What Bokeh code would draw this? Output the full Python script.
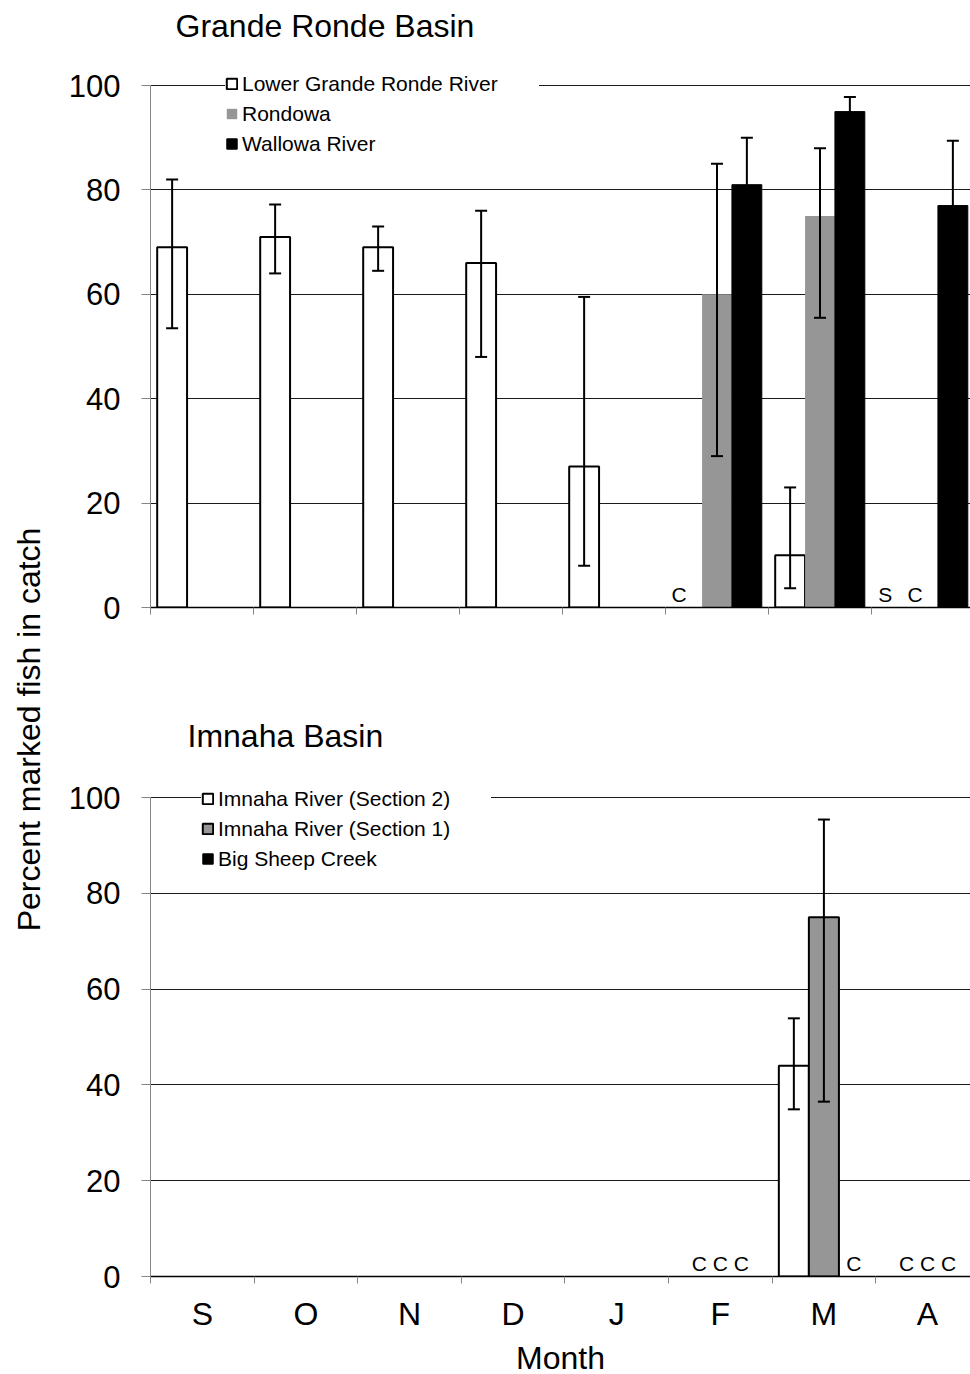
import math
from bokeh.plotting import figure
from bokeh.models import (ColumnDataSource, Whisker, TeeHead, FixedTicker,
                          Legend, LegendItem, Range1d)
from bokeh.layouts import row, column
from bokeh.core.properties import value
from bokeh.embed import file_html
from bokeh.resources import INLINE

FONT = "Liberation Sans"

# ---------------- data ----------------
months = ["S", "O", "N", "D", "J", "F", "M", "A"]

# Grande Ronde Basin
gr_names = ["Lower Grande Ronde River", "Rondowa", "Wallowa River"]
lgr_val = [69, 71, 69, 66, 27, None, 10, None]
lgr_hi = [82, 77.2, 73, 76, 59.5, None, 23, None]
lgr_lo = [53.5, 64, 64.5, 48, 8, None, 3.7, None]
ron_val = [None, None, None, None, None, 60, 75, None]
ron_hi = [None, None, None, None, None, 85, 88, None]
ron_lo = [None, None, None, None, None, 29, 55.5, None]
wal_val = [None, None, None, None, None, 81, 95, 77]
wal_hi = [None, None, None, None, None, 90, 97.8, 89.4]
wal_lo = [None, None, None, None, None, 72, 92.2, 64.6]
gr_notes_month = ["F", "A", "A"]
gr_notes_slot = [0, 0, 1]
gr_notes_text = ["C", "S", "C"]

# Imnaha Basin
im_names = ["Imnaha River (Section 2)", "Imnaha River (Section 1)", "Big Sheep Creek"]
im2_val = [None, None, None, None, None, None, 44, None]
im2_hi = [None, None, None, None, None, None, 53.9, None]
im2_lo = [None, None, None, None, None, None, 34.9, None]
im1_val = [None, None, None, None, None, None, 75, None]
im1_hi = [None, None, None, None, None, None, 95.4, None]
im1_lo = [None, None, None, None, None, None, 36.5, None]
bsc_val = [None, None, None, None, None, None, None, None]
bsc_hi = [None] * 8
bsc_lo = [None] * 8
im_notes_month = ["F", "M", "A"]
im_notes_slot = [1, 2, 1]
im_notes_text = ["C C C", "C", "C C C"]

y_ticks = [0, 20, 40, 60, 80, 100]

# ---------------- styling ----------------
GREY = "#969696"
SLOT = [-0.29, 0.0, 0.29]
BAR_W = 0.29
NAN = float("nan")


def make_panel(series, styles, notes, title, frame_w, frame_h, left_border,
               bottom_border, ppm, ppu, show_months, legend_loc, label_w,
               title_px, note_dx):
    x_end = frame_w / ppm
    y_end = frame_h / ppu
    p = figure(x_range=Range1d(0, x_end), y_range=Range1d(0, y_end),
               frame_width=frame_w, frame_height=frame_h,
               min_border_left=left_border, min_border_right=0,
               min_border_top=0, min_border_bottom=bottom_border,
               output_backend="svg", toolbar_location=None, title=None)
    p.outline_line_color = None
    p.background_fill_color = "white"
    p.xgrid.visible = False

    # y axis
    yt = FixedTicker(ticks=y_ticks, minor_ticks=[])
    p.yaxis.ticker = yt
    p.ygrid.ticker = yt
    p.yaxis.bounds = (0, 100)
    p.yaxis.axis_line_color = "#868686"
    p.yaxis.major_tick_line_color = "#868686"
    p.yaxis.major_tick_in = 0
    p.yaxis.major_tick_out = 9
    p.yaxis.minor_tick_in = 0
    p.yaxis.minor_tick_out = 0
    p.yaxis.major_label_text_font = FONT
    p.yaxis.major_label_text_font_size = "31px"
    p.yaxis.major_label_text_color = "black"
    p.yaxis.major_label_standoff = 21
    p.ygrid.grid_line_color = "#1a1a1a"
    p.ygrid.grid_line_width = 1

    # x axis
    bounds_ticks = list(range(len(months) + 1))
    if show_months:
        p.xaxis.ticker = FixedTicker(ticks=[i + 0.5 for i in range(len(months))],
                                     minor_ticks=bounds_ticks)
        p.xaxis.major_label_overrides = {i + 0.5: m for i, m in enumerate(months)}
        p.xaxis.major_label_text_font = FONT
        p.xaxis.major_label_text_color = "black"
        p.xaxis.major_label_text_font_size = "32px"
        p.xaxis.major_label_standoff = 12
        p.xaxis.axis_label = "Month"
        p.xaxis.axis_label_text_font = FONT
        p.xaxis.axis_label_text_font_size = "32px"
        p.xaxis.axis_label_text_font_style = "normal"
        p.xaxis.axis_label_text_color = "black"
        p.xaxis.axis_label_standoff = 5
    else:
        p.xaxis.ticker = FixedTicker(ticks=[], minor_ticks=bounds_ticks)
    p.xaxis.major_tick_in = 0
    p.xaxis.major_tick_out = 0
    p.xaxis.minor_tick_in = 0
    p.xaxis.minor_tick_out = 7
    p.xaxis.minor_tick_line_color = "#868686"
    p.xaxis.axis_line_color = "black"
    p.xaxis.axis_line_width = 1.5

    items = []
    for (name, vals, hi, lo), st in zip(series, styles):
        slot = st["slot"]
        idx = [k for k, v in enumerate(vals) if v is not None]
        if idx:
            data = dict(x=[k + 0.5 + SLOT[slot] for k in idx],
                        top=[vals[k] for k in idx],
                        hi=[hi[k] for k in idx],
                        lo=[lo[k] for k in idx])
        else:
            # series with no measured value: keep a legend swatch only
            data = dict(x=[NAN], top=[NAN], hi=[NAN], lo=[NAN])
        src = ColumnDataSource(data)
        r = p.vbar(x="x", top="top", bottom=0, width=BAR_W, source=src,
                   fill_color=st["fill"], line_color=st["line"],
                   line_width=st["lw"])
        items.append(LegendItem(label=name, renderers=[r]))
        if idx:
            w = Whisker(base="x", upper="hi", lower="lo", source=src,
                        line_width=2, line_color="black", level="overlay",
                        upper_head=TeeHead(size=12, line_width=2, line_color="black"),
                        lower_head=TeeHead(size=12, line_width=2, line_color="black"))
            p.add_layout(w)

    nm, ns, nt = notes
    p.text(x=[months.index(m) + 0.5 + SLOT[s] for m, s in zip(nm, ns)],
           y=[0] * len(nt), text=nt, text_font=value(FONT),
           text_font_size="21px", text_align="center",
           text_baseline="bottom", x_offset=note_dx, y_offset=-2,
           text_color="black")

    tx, ty = title_px
    p.text(x=[tx / ppm], y=[(frame_h - ty) / ppu], text=[title],
           text_font=value(FONT), text_font_size="32px", text_align="left",
           text_baseline="middle", text_color="black")

    leg = Legend(items=items, location=legend_loc,
                 background_fill_color="white", background_fill_alpha=1.0,
                 border_line_color=None, label_text_font=FONT,
                 label_text_font_size="21px", label_text_color="black",
                 glyph_width=13, glyph_height=13, label_standoff=4,
                 spacing=5, label_height=25, padding=20, label_width=label_w,
                 margin=0)
    p.add_layout(leg)
    return p


gr_series = [(gr_names[0], lgr_val, lgr_hi, lgr_lo),
             (gr_names[1], ron_val, ron_hi, ron_lo),
             (gr_names[2], wal_val, wal_hi, wal_lo)]
gr_styles = [dict(slot=0, fill="white", line="black", lw=2),
             dict(slot=1, fill=GREY, line=None, lw=0),
             dict(slot=2, fill="black", line="black", lw=1)]

im_series = [(im_names[0], im2_val, im2_hi, im2_lo),
             (im_names[1], im1_val, im1_hi, im1_lo),
             (im_names[2], bsc_val, bsc_hi, bsc_lo)]
im_styles = [dict(slot=0, fill="white", line="black", lw=2),
             dict(slot=1, fill=GREY, line="black", lw=2),
             dict(slot=2, fill="black", line="black", lw=1)]

p_top = make_panel(gr_series, gr_styles,
                   (gr_notes_month, gr_notes_slot, gr_notes_text),
                   "Grande Ronde Basin", 822, 607, 100, 73, 103, 5.22,
                   False, (87, 451), 297, (25, 25), -8)
p_bot = make_panel(im_series, im_styles,
                   (im_notes_month, im_notes_slot, im_notes_text),
                   "Imnaha Basin", 820, 596, 102, 98, 103.6, 4.79,
                   True, (51, 405), 273, (37, 55), 0)

p_lab = figure(width=48, height=1374, x_range=Range1d(0, 48),
               y_range=Range1d(0, 1374), min_border=0,
               x_axis_location=None, y_axis_location=None,
               output_backend="svg", toolbar_location=None, title=None)
p_lab.outline_line_color = None
p_lab.grid.visible = False
p_lab.text(x=[28], y=[1374 - 729], text=["Percent marked fish in catch"],
           angle=math.pi / 2, text_font=value(FONT), text_font_size="32px",
           text_align="center", text_baseline="middle", text_color="black")

layout = row(p_lab, column(p_top, p_bot, spacing=0), spacing=0)

open("out.html", "w").write(file_html(layout, INLINE))
